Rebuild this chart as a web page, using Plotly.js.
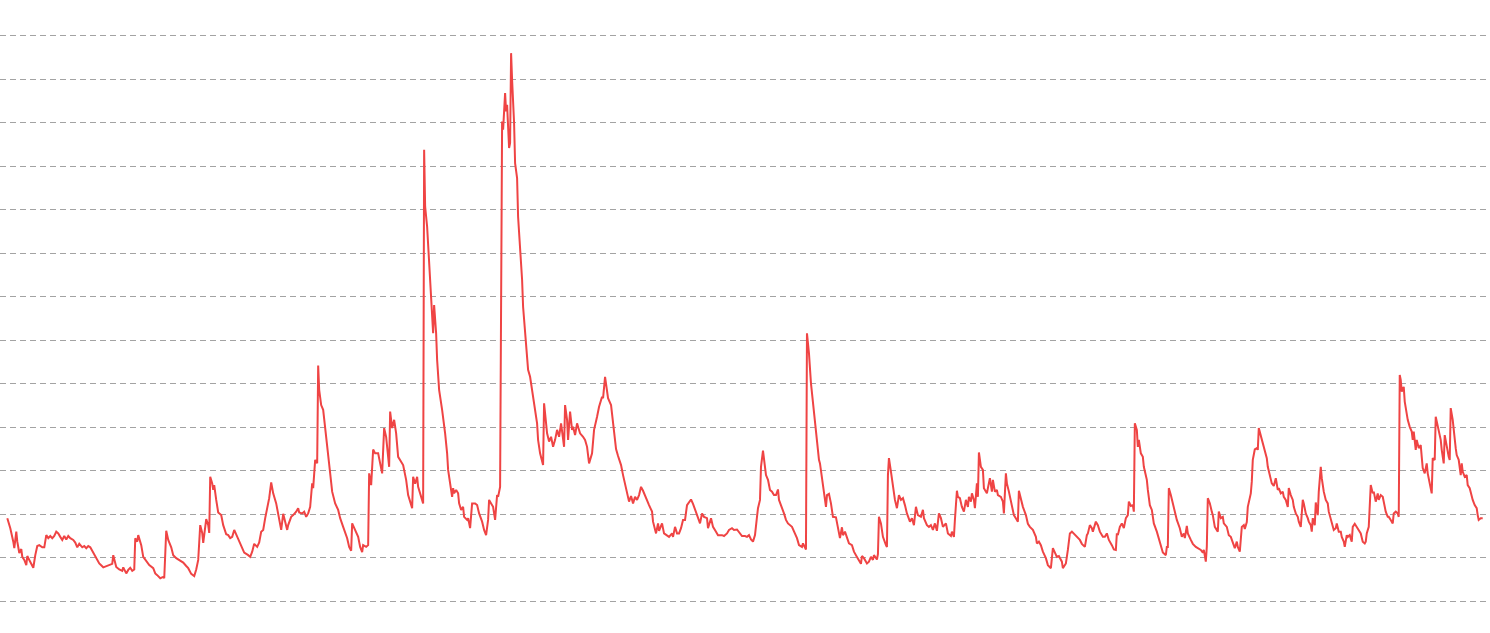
<!DOCTYPE html>
<html>
<head>
<meta charset="utf-8">
<script src="https://cdn.plot.ly/plotly-3.0.1.min.js"></script>
<style>html,body{margin:0;padding:0;background:#fff;}#chart{width:1490px;height:633px;}</style>
</head>
<body>
<div id="chart"></div>
<script>
// Period index (weeks since start of series)
const weeks = [0,3,6,7,9,10,12,14,15,17,19,20,22,25,26,28,30,32,35,37,39,41,43,45,47,49,51,53,55,57,59,61,63,66,68,70,72,75,77,79,81,83,86,89,92,96,99,102,105,106,109,112,115,116,119,121,123,125,127,128,130,131,134,136,139,142,146,148,150,153,156,157,159,161,164,166,169,171,174,176,179,181,184,187,189,191,193,195,196,199,201,202,203,205,206,207,209,211,214,216,219,221,223,225,227,230,232,235,237,241,243,245,247,250,252,254,256,258,260,262,264,266,269,271,273,274,276,278,280,281,284,286,289,291,292,295,297,299,301,303,305,306,308,310,311,312,314,316,318,321,323,325,328,331,333,336,340,342,344,345,347,351,353,355,356,359,361,362,364,366,368,371,373,375,377,379,381,382,383,385,387,389,391,393,396,399,401,405,406,408,410,411,413,416,417,418,420,421,423,425,426,427,429,430,432,435,436,438,440,441,443,445,446,447,449,451,452,454,456,457,460,461,463,465,468,470,472,475,477,479,481,482,484,486,488,490,491,493,495,496,498,499,500,502,503,504,505,507,508,510,511,513,515,516,518,520,521,523,525,526,528,530,531,533,536,537,539,540,542,544,546,548,550,552,554,555,557,558,560,561,563,565,566,568,570,571,573,576,578,580,582,585,587,590,592,595,596,598,600,601,604,606,609,611,614,616,618,620,622,624,626,628,630,632,634,636,637,640,642,645,646,649,651,652,655,657,660,662,665,666,668,670,672,674,676,678,680,682,684,686,689,691,693,695,697,700,701,704,706,709,711,715,717,720,722,725,727,730,732,735,738,740,742,744,746,748,750,751,753,754,756,757,759,761,763,765,767,769,771,772,775,777,779,781,785,787,790,792,795,796,798,799,800,802,804,807,810,812,813,816,818,819,820,822,824,826,829,831,833,835,836,838,840,842,845,847,850,852,854,855,857,860,862,864,866,867,870,871,872,874,876,879,880,881,882,884,886,888,890,892,894,896,898,900,903,905,907,909,911,914,916,917,920,922,924,926,928,930,932,934,936,939,941,944,945,947,948,950,951,953,955,957,959,961,962,964,965,967,968,970,971,972,974,976,977,980,981,983,985,986,988,990,991,994,996,997,999,1000,1002,1005,1007,1010,1011,1012,1014,1016,1019,1021,1023,1026,1029,1030,1032,1034,1036,1039,1041,1044,1046,1048,1050,1052,1055,1056,1059,1061,1063,1065,1068,1070,1073,1075,1078,1080,1081,1083,1085,1086,1089,1091,1093,1096,1098,1100,1102,1105,1107,1109,1110,1111,1113,1115,1117,1119,1121,1122,1124,1126,1127,1128,1130,1131,1132,1134,1136,1137,1140,1141,1143,1145,1147,1150,1152,1154,1156,1159,1160,1161,1162,1164,1166,1168,1170,1173,1175,1177,1178,1180,1181,1184,1186,1189,1191,1194,1196,1197,1199,1200,1201,1203,1205,1206,1208,1210,1211,1212,1214,1216,1217,1220,1222,1224,1226,1228,1230,1231,1233,1235,1237,1238,1240,1241,1244,1245,1246,1248,1250,1251,1252,1254,1256,1258,1260,1261,1263,1265,1267,1269,1271,1272,1274,1276,1277,1279,1281,1282,1284,1286,1287,1289,1291,1292,1294,1296,1297,1299,1301,1302,1304,1305,1306,1308,1309,1311,1312,1314,1315,1317,1319,1321,1322,1324,1326,1327,1329,1330,1332,1334,1335,1337,1338,1340,1341,1343,1345,1346,1348,1350,1352,1354,1356,1358,1359,1360,1362,1363,1364,1366,1367,1369,1371,1372,1374,1376,1377,1379,1381,1382,1384,1386,1387,1389,1391,1392,1393,1394,1395,1397,1398,1400,1401,1403,1405,1406,1407,1409,1410,1412,1414,1415,1416,1418,1420,1421,1423,1425,1426,1428,1429,1431,1432,1434,1435,1437,1438,1440,1441,1442,1443,1444,1446,1447,1449,1450,1452,1454,1455,1456,1458,1460,1461,1463,1465,1466,1468,1470,1471,1472,1474,1476];

// Index level
const values = [19.1,16.8,13.7,12.2,16.0,13.7,11.1,12.0,10.2,9.5,8.3,10.4,9.5,8.3,7.7,10.6,12.7,12.9,12.4,12.4,15.2,14.5,15.0,14.5,15.0,16.0,15.6,14.8,14.1,15.0,14.2,15.0,14.5,14.1,13.5,12.4,13.2,12.4,12.7,12.2,12.7,12.4,11.2,10.2,8.7,7.8,8.1,8.3,8.6,10.6,7.9,7.3,7.0,7.8,6.4,7.2,7.7,7.0,7.3,14.5,13.7,15.2,12.9,10.2,9.1,8.3,7.6,6.4,6.0,5.3,5.6,5.3,16.2,14.1,12.4,10.6,9.9,9.6,9.1,8.9,8.1,7.6,6.3,5.8,7.3,9.5,17.5,15.7,13.4,18.9,17.5,15.7,28.6,27.1,25.6,26.7,23.3,20.4,19.8,17.5,15.4,15.2,14.5,14.8,16.4,14.8,13.9,12.5,11.2,10.6,10.2,11.4,13.2,12.5,13.5,16.0,16.4,19.1,21.7,23.7,27.3,24.8,22.5,19.7,17.9,16.4,20.1,18.3,16.4,17.5,19.4,19.8,20.6,21.4,20.4,20.2,20.6,19.4,20.2,21.7,27.1,26.0,32.5,31.7,54.2,48.6,45.1,44.0,39.4,34.0,29.4,25.2,22.5,21.0,19.1,17.1,14.5,12.5,11.6,17.9,16.8,14.8,12.5,11.3,12.9,12.5,12.9,29.4,26.7,34.9,34.0,34.0,31.7,29.4,39.8,37.8,33.2,30.9,43.6,39.8,41.7,38.6,33.2,32.3,31.3,27.9,24.4,21.4,28.6,27.0,28.6,26.3,24.8,22.5,103.8,90.7,86.1,82.3,75.4,67.7,61.6,68.1,61.6,55.5,48.6,44.0,42.4,38.6,34.0,30.2,27.1,24.0,26.0,24.8,25.6,24.8,22.5,21.0,21.7,19.4,18.7,19.1,16.8,22.5,22.5,22.1,20.2,18.3,16.4,15.2,18.7,23.3,22.5,21.7,18.7,24.4,24.0,26.3,110.3,108.4,116.8,112.6,114.1,104.2,105.3,126.0,119.9,109.9,100.7,97.3,88.4,81.5,73.9,67.7,61.6,55.5,53.2,51.6,48.6,46.3,44.0,40.9,37.1,34.0,31.3,45.5,40.9,38.6,36.7,37.8,35.5,37.1,39.4,37.8,40.9,39.4,35.5,45.1,41.7,37.1,43.6,39.4,40.1,38.2,40.9,40.1,38.6,37.8,37.1,35.5,31.7,34.0,39.4,42.4,44.7,47.0,46.7,51.6,47.8,46.7,45.1,40.5,35.0,33.4,31.3,29.0,27.1,24.8,22.9,24.2,22.5,24.0,23.3,24.4,26.3,25.4,24.8,22.9,22.1,20.6,18.3,15.6,17.9,16.2,17.9,15.6,15.2,14.8,15.6,14.8,17.1,15.6,15.6,16.8,18.7,18.7,22.1,22.9,23.4,22.4,20.6,19.1,17.9,20.2,19.4,19.1,16.8,19.1,17.1,16.0,15.2,15.2,15.0,15.6,16.4,16.8,16.4,16.5,16.0,15.0,15.0,14.8,15.2,14.2,13.7,15.2,19.4,21.4,23.3,30.9,34.6,32.5,29.0,27.9,25.6,25.2,24.4,24.4,25.7,23.3,21.7,20.2,18.7,17.9,17.1,16.0,14.5,12.9,12.5,13.3,12.2,11.9,61.6,57.0,50.1,43.2,36.7,32.5,31.7,27.1,24.0,21.7,24.4,24.7,22.5,19.4,19.3,16.8,14.5,17.0,15.2,16.0,14.8,13.3,12.9,11.4,10.2,9.5,8.6,10.4,9.9,8.7,9.1,10.2,9.5,10.6,9.6,10.9,19.4,17.9,14.8,12.9,12.5,29.0,32.9,29.8,26.3,23.3,21.4,24.4,23.3,23.7,22.1,20.2,18.3,19.1,17.5,21.7,19.8,19.4,21.0,19.1,17.5,17.1,17.5,16.4,17.9,16.2,20.2,19.1,17.1,17.9,15.6,15.0,16.0,14.8,18.7,25.4,24.0,23.7,21.7,20.6,23.3,21.7,24.0,22.9,24.8,23.3,21.4,27.1,24.0,34.2,30.9,30.2,26.0,24.8,26.0,28.3,25.2,27.9,25.2,25.6,24.4,24.0,22.9,20.2,29.4,27.1,25.2,22.1,19.8,18.7,18.3,25.4,23.3,21.7,19.8,17.8,17.1,16.4,14.8,13.3,13.7,12.9,11.4,9.9,8.3,7.6,12.2,11.0,10.2,10.4,9.1,7.6,8.7,11.8,15.6,16.0,15.2,14.8,14.1,13.2,12.5,15.2,15.6,17.5,16.8,16.0,18.3,17.5,16.0,14.8,14.8,15.6,14.1,12.9,11.9,11.8,15.6,15.2,17.1,17.9,16.8,19.1,19.8,22.9,21.9,22.1,20.6,40.9,39.4,35.5,37.1,34.0,33.2,30.9,27.9,25.6,22.1,21.0,17.9,16.0,14.5,12.5,11.2,10.6,12.5,12.5,26.0,24.4,22.5,20.2,18.7,16.8,14.8,15.6,14.5,17.3,15.6,14.1,13.2,12.5,12.2,11.8,11.2,11.8,9.1,12.5,23.7,22.5,20.6,19.8,17.1,16.4,16.0,20.6,19.1,19.4,17.9,17.1,15.2,14.8,13.3,12.2,13.7,12.5,11.4,17.1,17.5,16.6,18.2,21.7,24.8,27.5,32.5,34.9,35.2,34.8,39.8,38.2,36.3,34.4,32.9,30.9,29.0,27.1,26.5,28.3,25.6,26.0,24.8,25.2,24.0,23.3,21.7,26.0,24.4,23.3,21.7,20.2,19.4,18.3,17.1,23.3,22.5,20.2,19.1,18.3,17.5,16.0,19.1,17.5,22.7,19.8,25.2,30.9,28.3,25.2,23.3,22.5,20.6,18.7,17.1,16.4,16.8,17.9,16.0,16.0,14.8,13.7,12.5,15.2,14.8,15.2,13.7,17.1,17.8,17.1,16.4,15.6,13.7,13.3,13.7,15.6,17.1,21.7,26.7,24.8,25.2,22.9,24.8,23.3,24.4,24.0,22.5,20.6,19.4,19.4,18.7,17.9,20.2,20.6,20.2,19.4,52.0,50.9,48.2,49.3,45.9,42.8,41.7,40.1,39.0,37.1,39.0,34.8,37.1,35.2,35.9,33.2,30.6,29.4,31.7,29.4,27.1,24.8,32.9,32.5,42.4,40.5,39.0,37.1,34.8,31.7,38.2,35.5,34.4,33.2,32.5,44.4,41.7,39.0,35.2,33.6,32.5,29.0,31.7,29.8,28.6,29.0,26.7,26.0,24.0,23.3,22.1,21.4,19.8,18.7,19.1,19.1];

const trace = {
  x: weeks,
  y: values,
  type: 'scatter',
  mode: 'lines',
  line: {color: '#ef4444', width: 2},
  hoverinfo: 'skip'
};

const layout = {
  width: 1490,
  height: 633,
  margin: {l: 0, r: 3, t: 14, b: 10, pad: 0},
  paper_bgcolor: '#ffffff',
  plot_bgcolor: '#ffffff',
  showlegend: false,
  xaxis: {
    range: [-7.3, 1480.3],
    showgrid: false, zeroline: false, showline: false,
    showticklabels: false, ticks: ''
  },
  yaxis: {
    range: [-5, 135],
    tick0: 0, dtick: 10,
    showgrid: true, gridcolor: '#a3a3a3', gridwidth: 1, griddash: '6px,4px',
    zeroline: false, showline: false, showticklabels: false, ticks: ''
  }
};

Plotly.newPlot('chart', [trace], layout, {staticPlot: true, displayModeBar: false});
</script>
</body>
</html>
